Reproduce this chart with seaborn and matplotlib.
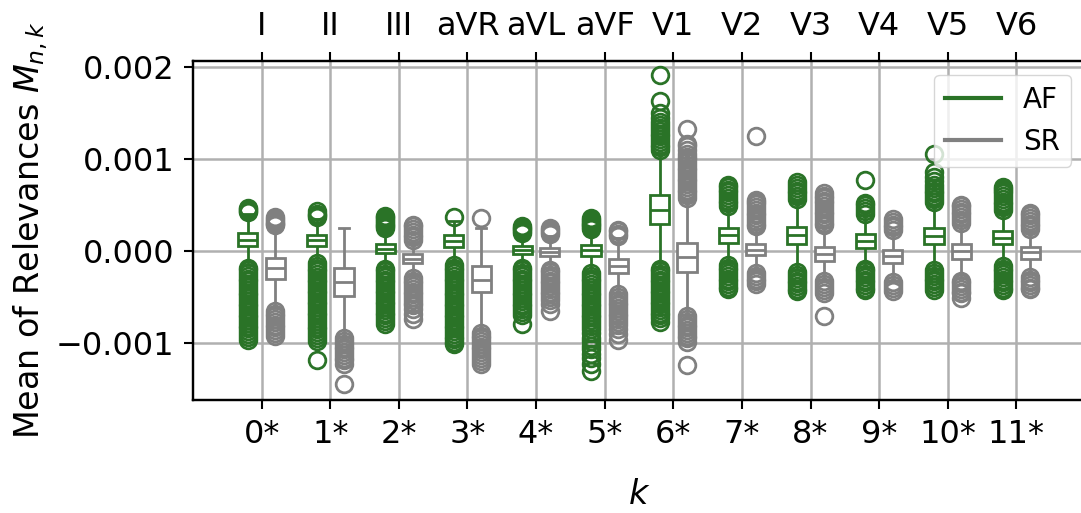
import matplotlib
matplotlib.use("Agg")
import matplotlib.pyplot as plt
from matplotlib.lines import Line2D
import pandas as pd
import seaborn as sns

# ---- data -----------------------------------------------------------------
leads = ["I", "II", "III", "aVR", "aVL", "aVF", "V1", "V2", "V3", "V4", "V5", "V6"]
k_labels = ["0*", "1*", "2*", "3*", "4*", "5*", "6*", "7*", "8*", "9*", "10*", "11*"]
groups = ["AF", "SR"]

# per lead: (lower whisker, Q1, median, Q3, upper whisker), in units of 1e-3
af_stats = [
    (-0.15, 0.054, 0.127, 0.200, 0.40),
    (-0.11, 0.054, 0.120, 0.174, 0.35),
    (-0.17, -0.025, 0.029, 0.081, 0.23),
    (-0.13, 0.048, 0.109, 0.174, 0.33),
    (-0.16, -0.036, 0.011, 0.054, 0.18),
    (-0.22, -0.054, 0.008, 0.062, 0.22),
    (-0.17, 0.291, 0.447, 0.607, 1.07),
    (-0.13, 0.092, 0.171, 0.247, 0.46),
    (-0.20, 0.073, 0.171, 0.266, 0.54),
    (-0.17, 0.037, 0.109, 0.182, 0.39),
    (-0.19, 0.073, 0.163, 0.255, 0.50),
    (-0.14, 0.073, 0.146, 0.218, 0.42),
]
sr_stats = [
    (-0.62, -0.301, -0.188, -0.072, 0.25),
    (-0.93, -0.490, -0.333, -0.188, 0.255),
    (-0.27, -0.134, -0.087, -0.036, 0.10),
    (-0.86, -0.446, -0.311, -0.163, 0.25),
    (-0.18, -0.054, -0.011, 0.037, 0.16),
    (-0.45, -0.235, -0.163, -0.083, 0.14),
    (-0.69, -0.224, -0.061, 0.092, 0.55),
    (-0.21, -0.047, 0.008, 0.073, 0.24),
    (-0.31, -0.105, -0.030, 0.043, 0.26),
    (-0.32, -0.126, -0.054, 0.011, 0.20),
    (-0.29, -0.080, 0.000, 0.073, 0.28),
    (-0.25, -0.080, -0.011, 0.044, 0.22),
]

# outlying per-sample means, in units of 1e-3
af_fliers = [
    [0.425, 0.44, 0.455, 0.465, -0.18, -0.21, -0.24, -0.27, -0.30, -0.33, -0.36, -0.39,
     -0.42, -0.45, -0.48, -0.51, -0.54, -0.57, -0.60, -0.63, -0.66, -0.69, -0.72, -0.75,
     -0.78, -0.81, -0.84, -0.87, -0.90, -0.93, -0.965],
    [0.37, 0.39, 0.41, 0.435, -0.13, -0.16, -0.19, -0.22, -0.25, -0.28, -0.31, -0.34,
     -0.37, -0.40, -0.43, -0.46, -0.49, -0.52, -0.55, -0.58, -0.61, -0.64, -0.67, -0.70,
     -0.73, -0.76, -0.79, -0.82, -0.85, -0.88, -0.91, -0.94, -0.975, -1.18],
    [0.25, 0.27, 0.29, 0.31, 0.33, 0.35, 0.37, 0.385, -0.19, -0.22, -0.25, -0.28, -0.31,
     -0.34, -0.37, -0.40, -0.43, -0.46, -0.49, -0.52, -0.55, -0.58, -0.61, -0.64, -0.67,
     -0.70, -0.73, -0.76, -0.79],
    [0.37, -0.15, -0.18, -0.21, -0.24, -0.27, -0.30, -0.33, -0.36, -0.39, -0.42, -0.45,
     -0.48, -0.51, -0.54, -0.57, -0.60, -0.63, -0.66, -0.69, -0.72, -0.75, -0.78, -0.81,
     -0.84, -0.87, -0.90, -0.93, -0.96, -0.99, -1.01],
    [0.20, 0.22, 0.24, 0.255, 0.27, -0.18, -0.21, -0.24, -0.27, -0.30, -0.33, -0.36,
     -0.39, -0.42, -0.45, -0.48, -0.51, -0.54, -0.57, -0.60, -0.63, -0.66, -0.70, -0.79],
    [0.24, 0.26, 0.28, 0.30, 0.32, 0.34, 0.356, -0.24, -0.27, -0.30, -0.33, -0.36, -0.39,
     -0.42, -0.45, -0.48, -0.51, -0.54, -0.57, -0.60, -0.63, -0.66, -0.69, -0.72, -0.75,
     -0.78, -0.81, -0.85, -0.89, -0.94, -0.98, -1.03, -1.07, -1.12, -1.16, -1.23, -1.30],
    [1.10, 1.13, 1.16, 1.19, 1.22, 1.25, 1.28, 1.31, 1.34, 1.37, 1.41, 1.45, 1.50, 1.64,
     1.915, -0.19, -0.22, -0.25, -0.28, -0.31, -0.34, -0.37, -0.40, -0.43, -0.46, -0.49,
     -0.52, -0.55, -0.58, -0.61, -0.64, -0.67, -0.70, -0.73, -0.77],
    [0.49, 0.52, 0.55, 0.58, 0.61, 0.64, 0.67, 0.70, 0.72, -0.15, -0.18, -0.21, -0.24,
     -0.27, -0.30, -0.33, -0.36, -0.39, -0.41],
    [0.57, 0.60, 0.63, 0.66, 0.69, 0.72, 0.756, -0.23, -0.26, -0.29, -0.32, -0.35, -0.38,
     -0.41, -0.43],
    [0.41, 0.44, 0.47, 0.50, 0.52, 0.772, -0.19, -0.22, -0.25, -0.28, -0.31, -0.34, -0.37,
     -0.40, -0.42],
    [0.54, 0.57, 0.60, 0.63, 0.66, 0.69, 0.72, 0.76, 0.81, 0.86, 1.053, -0.21, -0.24,
     -0.27, -0.30, -0.33, -0.36, -0.39, -0.42],
    [0.45, 0.48, 0.51, 0.54, 0.57, 0.60, 0.63, 0.66, 0.68, 0.70, -0.16, -0.19, -0.22,
     -0.25, -0.28, -0.31, -0.34, -0.37, -0.40, -0.42],
]
sr_fliers = [
    [0.28, 0.295, 0.31, 0.325, 0.345, 0.375, -0.65, -0.68, -0.71, -0.74, -0.77, -0.80,
     -0.83, -0.86, -0.89, -0.92],
    [-0.95, -0.98, -1.01, -1.04, -1.07, -1.10, -1.13, -1.16, -1.19, -1.225, -1.45],
    [0.12, 0.15, 0.18, 0.21, 0.24, 0.27, 0.29, -0.29, -0.32, -0.35, -0.38, -0.41, -0.44,
     -0.47, -0.50, -0.53, -0.56, -0.59, -0.63, -0.68, -0.74],
    [0.356, -0.89, -0.92, -0.95, -0.98, -1.01, -1.04, -1.07, -1.10, -1.13, -1.16, -1.20,
     -1.23],
    [0.19, 0.21, 0.23, 0.255, -0.20, -0.23, -0.26, -0.29, -0.32, -0.35, -0.38, -0.41,
     -0.44, -0.47, -0.50, -0.53, -0.58, -0.65],
    [0.165, 0.19, 0.215, 0.23, -0.47, -0.50, -0.53, -0.56, -0.59, -0.62, -0.65, -0.68,
     -0.71, -0.74, -0.77, -0.80, -0.85, -0.90, -0.97],
    [0.58, 0.61, 0.64, 0.67, 0.70, 0.73, 0.76, 0.79, 0.82, 0.85, 0.88, 0.91, 0.94, 0.97,
     1.00, 1.03, 1.06, 1.10, 1.14, 1.17, 1.33, -0.71, -0.74, -0.77, -0.80, -0.83, -0.86,
     -0.89, -0.92, -0.95, -0.99, -1.234],
    [0.27, 0.30, 0.33, 0.36, 0.39, 0.42, 0.45, 0.48, 0.51, 0.53, 0.556, 1.253, -0.24,
     -0.27, -0.30, -0.33, -0.355],
    [0.28, 0.31, 0.34, 0.37, 0.40, 0.43, 0.46, 0.49, 0.52, 0.55, 0.58, 0.60, 0.63, -0.33,
     -0.36, -0.39, -0.42, -0.46, -0.71],
    [0.23, 0.26, 0.29, 0.32, 0.35, -0.34, -0.37, -0.40, -0.436],
    [0.31, 0.34, 0.37, 0.40, 0.43, 0.46, 0.49, 0.50, -0.32, -0.35, -0.38, -0.41, -0.44,
     -0.46, -0.515],
    [0.24, 0.27, 0.30, 0.33, 0.36, 0.39, 0.42, -0.28, -0.31, -0.34, -0.37, -0.40, -0.41],
]

colors = {"AF": "#2a7327", "SR": "#808080"}

# ---- long-form table: each sample set reproduces its box summary -------------
rows = []
for grp, stats, fliers in (("AF", af_stats, af_fliers), ("SR", sr_stats, sr_fliers)):
    for lab, (wlo, q1, med, q3, whi), out in zip(k_labels, stats, fliers):
        n = len(out) + 5
        vals = list(out) + [wlo, whi] + [q1] * n + [med] * n + [q3] * n
        rows.extend((lab, grp, v * 1e-3) for v in vals)
df = pd.DataFrame(rows, columns=["k", "group", "M"])

# ---- figure -----------------------------------------------------------------
W, H = 1081, 513
fig = plt.figure(figsize=(W / 100, H / 100), dpi=100)
ax = fig.add_axes([193 / W, 1 - 400 / H, (1085 - 193) / W, (400 - 61) / H])

# white boxes with group-coloured outlines; one pass per group so every
# line element (box, whiskers, caps, median, fliers) takes the group colour
for grp in groups:
    col = colors[grp]
    sns.boxplot(
        data=df[df["group"] == grp], x="k", y="M", hue="group",
        order=k_labels, hue_order=groups, dodge=True,
        palette={g: "white" for g in groups}, saturation=1,
        linecolor=col, linewidth=2, width=0.8, gap=0.3,
        flierprops=dict(marker="o", markersize=12, markerfacecolor="none",
                        markeredgecolor=col, markeredgewidth=2),
        legend=False, ax=ax,
    )

FS = 23
ax.set_xlim(-1, 12)
ax.set_ylim(-0.00162, 0.00207)
ax.set_yticks([-0.001, 0.0, 0.001, 0.002])
ax.set_xticks(range(len(k_labels)))
ax.set_xticklabels(k_labels)
ax.grid(True, color="#b0b0b0", linewidth=1.8)
ax.set_axisbelow(True)
ax.tick_params(axis="both", labelsize=FS, length=6.5, width=1.5, pad=7, colors="black")
for s in ax.spines.values():
    s.set_linewidth(1.6)
    s.set_color("black")
ax.set_xlabel("$k$", fontsize=FS + 1, labelpad=20)
ax.set_ylabel("Mean of Relevances $M_{n,k}$", fontsize=FS + 1, labelpad=4)

top = ax.twiny()
top.set_xlim(ax.get_xlim())
top.set_xticks(range(len(leads)))
top.set_xticklabels(leads)
top.tick_params(axis="x", labelsize=FS, length=6.5, width=1.5, pad=7)
for s in top.spines.values():
    s.set_linewidth(1.6)

handles = [Line2D([], [], color=colors[g], linewidth=3) for g in groups]
ax.legend(handles, groups, loc="upper right", fontsize=20, handlelength=2.0)

fig.savefig("out.png", dpi=100)
